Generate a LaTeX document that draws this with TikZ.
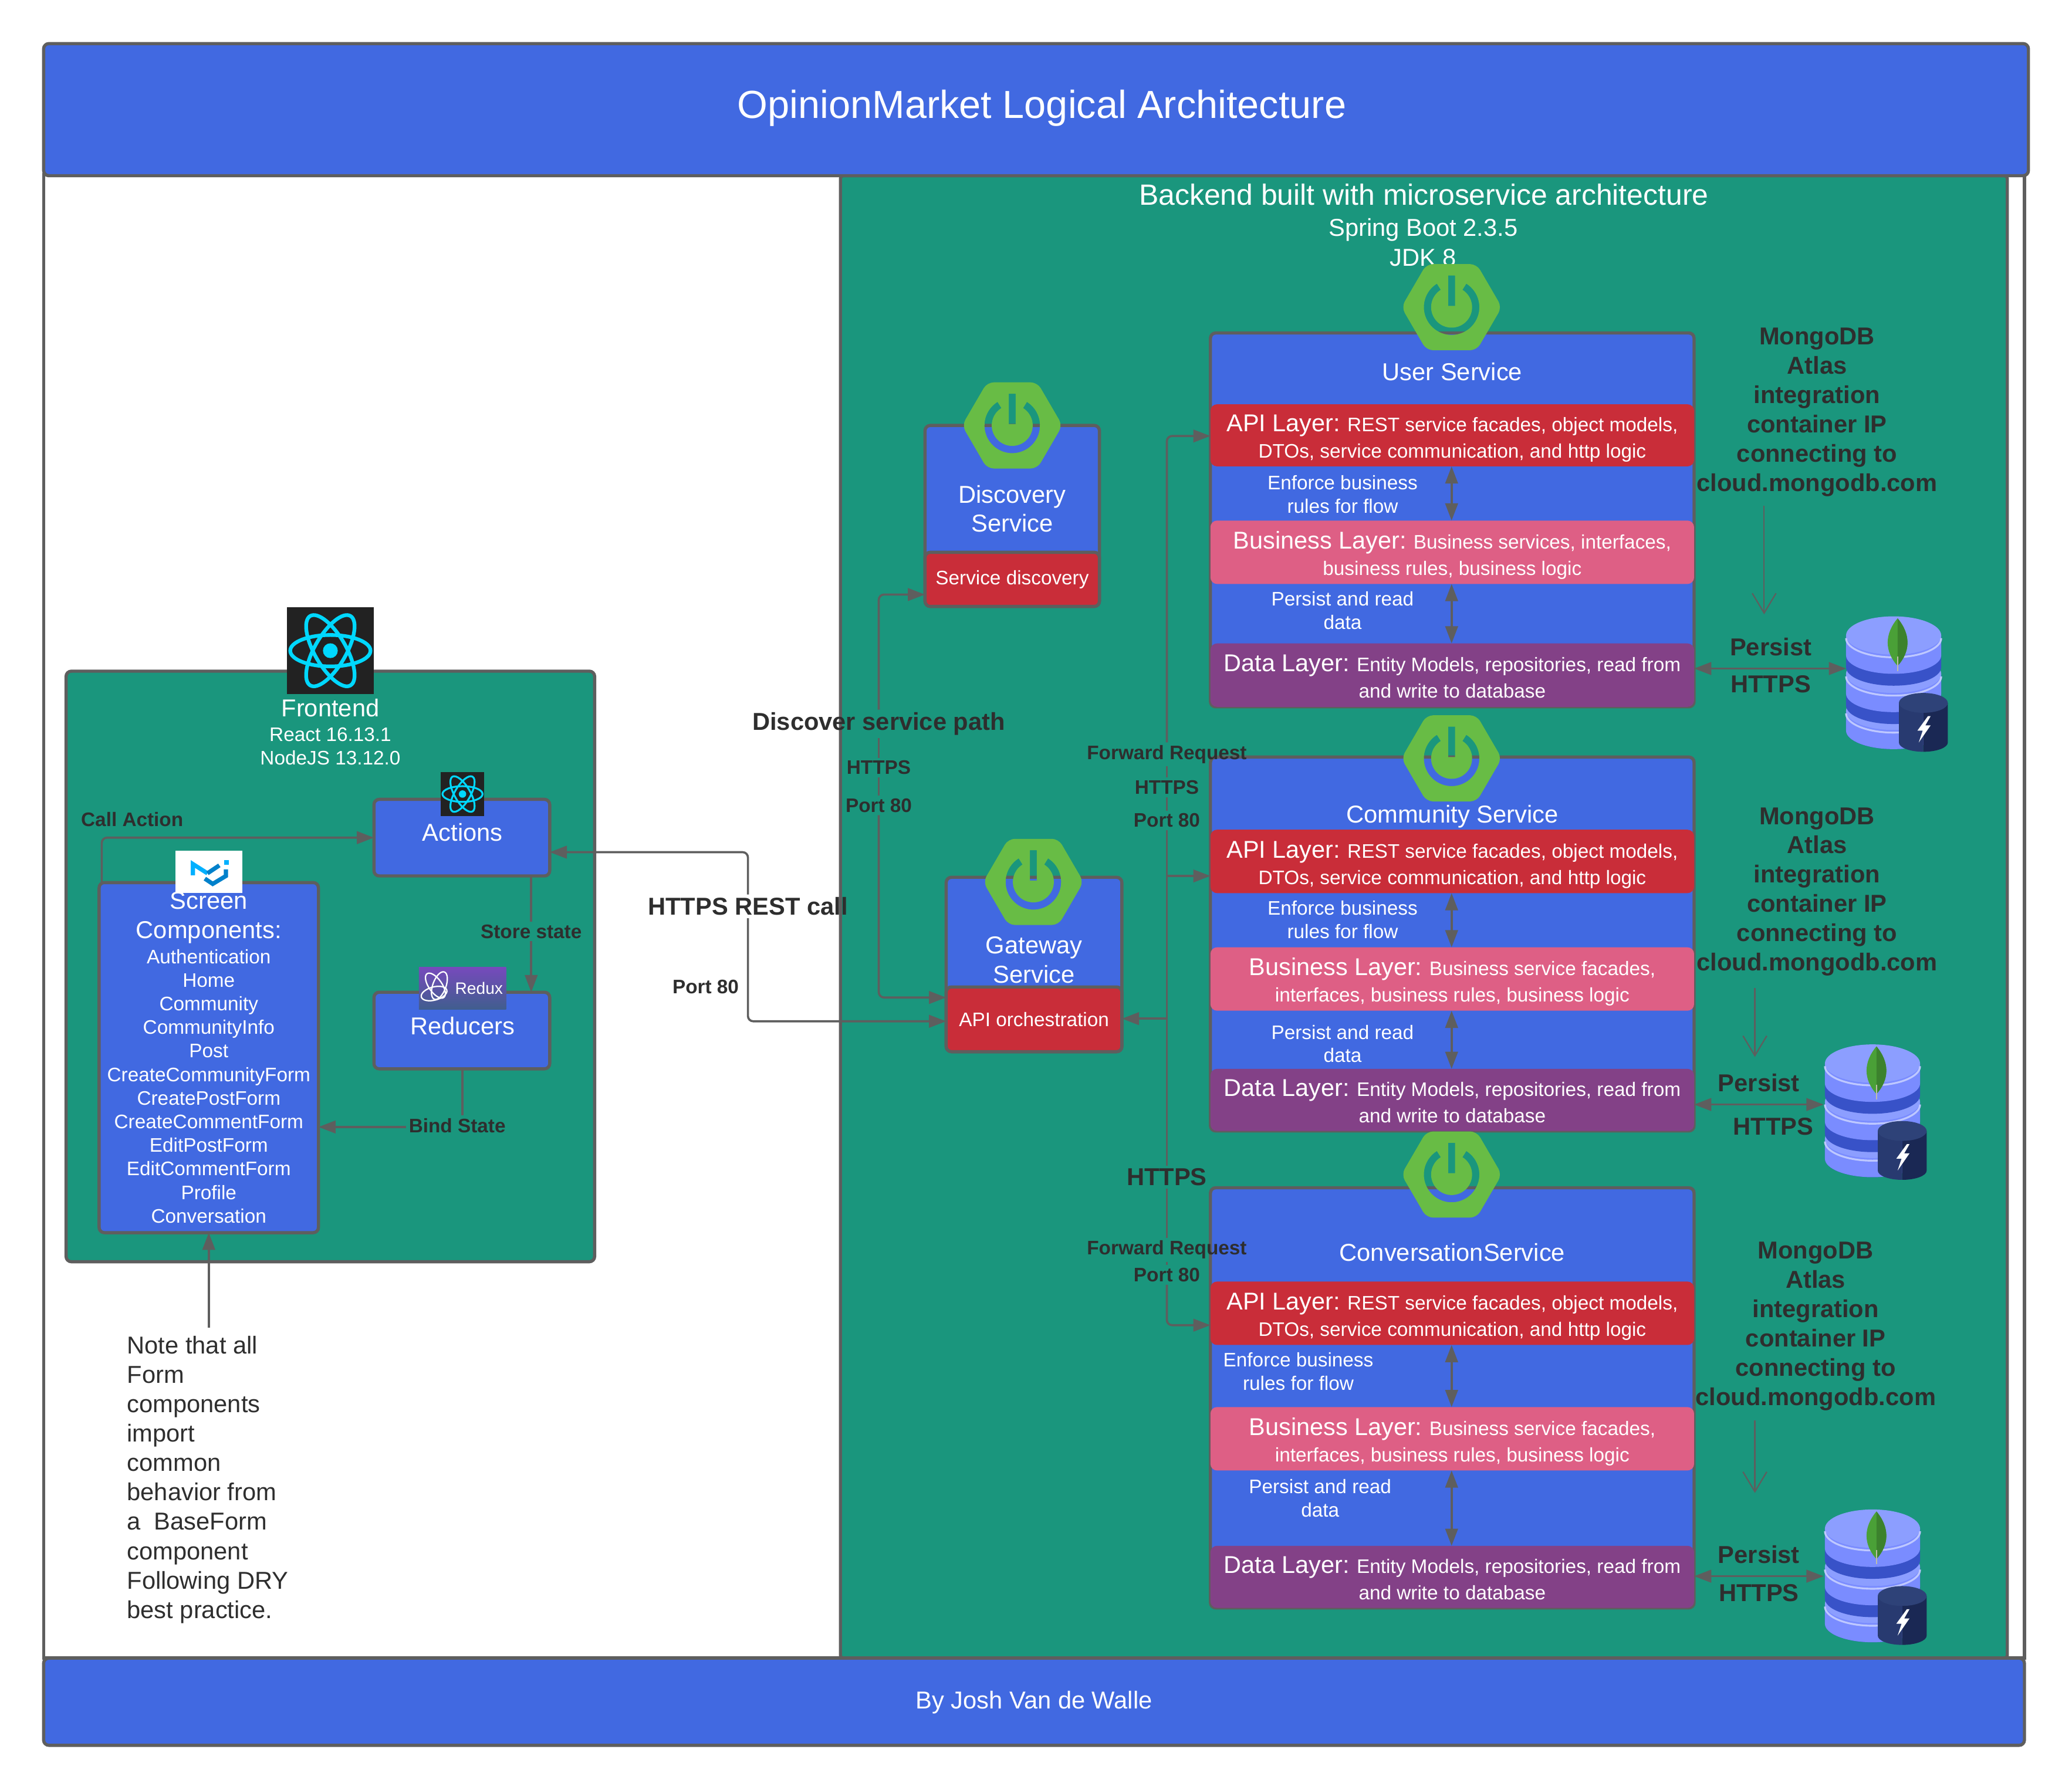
\documentclass[tikz,border=0pt]{standalone}
\usepackage{fontspec}
\setmainfont{Liberation Sans}
\usetikzlibrary{arrows.meta,calc,shadings}
\definecolor{royal}{HTML}{4169E1}
\definecolor{teal2}{HTML}{1A967D}
\definecolor{edge}{HTML}{5E5E5E}
\definecolor{redl}{HTML}{C92D39}
\definecolor{pinkl}{HTML}{DE5F85}
\definecolor{purl}{HTML}{834187}
\definecolor{ink}{HTML}{2E2E2E}
\definecolor{spring}{HTML}{68BC45}
\definecolor{reactc}{HTML}{00D8FF}
\definecolor{reactb}{HTML}{222222}
\definecolor{dbside}{RGB}{122,140,255}
\definecolor{dbtop}{RGB}{140,158,255}
\definecolor{dbdark}{RGB}{56,82,200}
\definecolor{dblight}{RGB}{190,200,255}
\newcommand\fz[2]{\fontsize{#1}{#2}\selectfont}
\newcommand\bigt[1]{{\fz{18.4}{19}\rule{0pt}{17.5pt}#1}}
\newcommand\bigd[1]{{\fz{18.4}{19}\rule{0pt}{14.5pt}#1}}
\tikzset{
  panel/.style={draw=edge,line width=2.4pt,fill=royal,rounded corners=4pt,anchor=north west,inner sep=0pt,outer sep=0pt},
  greenpanel/.style={panel,fill=teal2},
  layer/.style={fill=#1,rounded corners=5pt,anchor=north west,inner sep=0pt,outer sep=0pt,minimum width=366pt,text=white,align=center,font=\fz{14.8}{20}},
  conn/.style={draw=edge,line width=1.6pt,rounded corners=4pt},
  tip/.style={-{Triangle[length=13pt,width=9.5pt]}},
  tipb/.style={{Triangle[length=13pt,width=9.5pt]}-{Triangle[length=13pt,width=9.5pt]}},
  vee/.style={draw=edge,line width=1pt,-{Straight Barb[length=15pt,width=18pt,line width=1pt]}},
  wt/.style={text=white,align=center,inner sep=0pt},
  big/.style={font=\fz{18.5}{22}},
  small/.style={font=\fz{14.8}{17.7}},
  lbl/.style={text=ink,align=center,inner sep=2pt,font=\bfseries\fz{14.8}{17.7}},
  lblbig/.style={text=ink,align=center,inner sep=2pt,font=\bfseries\fz{18.5}{22.2}},
}
\newcommand\springicon[2]{%
  \begin{scope}[shift={(#1,#2)},x=1pt,y=1pt]
    \fill[spring,even odd rule,rounded corners=5pt]
      (38,0)--(19,32.6)--(-19,32.6)--(-38,0)--(-19,-32.6)--(19,-32.6)--cycle
      [sharp corners]
      (58:21) arc[start angle=58,end angle=-238,radius=21] -- (122:15.5)
      arc[start angle=122,end angle=418,radius=15.5] -- cycle
      (-2.6,1) rectangle (2.6,24);
  \end{scope}}
\newcommand\reactlogo[3]{%
  \begin{scope}[shift={(#1,#2)},x=#3pt,y=#3pt]
    \fill[reactb] (-1,-1) rectangle (1,1);
    \foreach \a in {0,60,120}
      \draw[reactc,line width=#3*0.085pt,rotate=\a] (0,0) ellipse[x radius=0.92,y radius=0.36];
    \fill[reactc] (0,0) circle[radius=0.17];
  \end{scope}}
% #1 top-ellipse centre (local y up), #2 dark band height, #3 body height
\newcommand\dbdisc[3]{%
  \fill[dbdark] (-36,#1) -- (-36,#1-#2) arc[start angle=180,end angle=360,x radius=36,y radius=14] -- (36,#1) -- cycle;
  \fill[dbside] (-36,#1) -- (-36,#1-#3) arc[start angle=180,end angle=360,x radius=36,y radius=14] -- (36,#1) -- cycle;
  \fill[dbtop] (0,#1) ellipse[x radius=36,y radius=14.5];
  \draw[dblight,line width=1.4pt] (-36,#1-2) arc[start angle=180,end angle=360,x radius=36,y radius=14.5];
}
\newcommand\dbicon[2]{%
  \begin{scope}[shift={(#1,#2)},x=1pt,y=1pt]
    \dbdisc{-21}{15}{15}
    \dbdisc{7}{24}{15}
    \dbdisc{36}{24}{15}
    \fill[fill={rgb,255:red,74;green,160;blue,55}] (3,49) .. controls (13,37) and (13,24) .. (3,13) .. controls (-7,24) and (-7,37) .. (3,49) -- cycle;
    \fill[fill={rgb,255:red,60;green,130;blue,45}] (3,49) .. controls (13,37) and (13,24) .. (3,13) -- cycle;
    \draw[draw={rgb,255:red,190;green,190;blue,170},line width=.7pt] (3,20) -- (3,9);
    \fill[fill={rgb,255:red,40;green,58;blue,112}] (4,-15) -- (4,-45) arc[start angle=180,end angle=270,x radius=18.5,y radius=7] -- (22.5,-15) -- cycle;
    \fill[fill={rgb,255:red,26;green,40;blue,84}] (22.5,-15) -- (22.5,-52) arc[start angle=270,end angle=360,x radius=18.5,y radius=7] -- (41,-15) -- cycle;
    \fill[fill={rgb,255:red,46;green,66;blue,120}] (22.5,-15) ellipse[x radius=18.5,y radius=7.5];
    \begin{scope}[shift={(23,-35)}]
      \fill[white] (3,10) -- (-5,-1) -- (-1,-1) -- (-4,-10) -- (5,3) -- (1,3) -- (5,10) -- cycle;
    \end{scope}
  \end{scope}}
\begin{document}
\begin{tikzpicture}[x=1pt,y=-1pt]
\useasboundingbox (0,0) rectangle (1568,1354.8);
\fill[white] (0,0) rectangle (1568,1354.8);
% outer frame
\node[draw=edge,line width=2.4pt,fill=white,anchor=north west,inner sep=0pt,outer sep=0pt,minimum width=1499pt,minimum height=1123pt] (frame) at (33,132) {};
% backend
\node[greenpanel,rounded corners=2pt,minimum width=883pt,minimum height=1122pt] (backend) at (636,133) {};
% title and footer
\node[panel,minimum width=1502pt,minimum height=100pt] (title) at (33,33) {};
\node[wt,font=\fz{29.6}{36}] (titletxt) at (788.5,82) {OpinionMarket Logical Architecture};
\node[panel,minimum width=1499pt,minimum height=66pt] (footer) at (33,1255) {};
\node[wt,big] (footertxt) at (782.5,1288.5) {By Josh Van de Walle};
\node[wt,font=\fz{22.15}{26}] (betitle) at (1077.5,147.5) {Backend built with microservice architecture};
\node[wt,big] (besub) at (1077,174) {Spring Boot 2.3.5};
\node[wt,big] (bejdk) at (1077,195) {JDK 8};
% frontend
\node[greenpanel,minimum width=400pt,minimum height=447pt] (frontend) at (50,508) {};
\node[wt,big] (fetitle) at (250,536) {Frontend};
\node[wt,small] (fesub) at (250,565) {React 16.13.1\\NodeJS 13.12.0};
\node[panel,minimum width=133pt,minimum height=58pt] (actions) at (283,605) {};
\node[wt,big] (actionstxt) at (350,630) {Actions};
\node[panel,minimum width=133pt,minimum height=58pt] (reducers) at (283,751) {};
\node[wt,big] (reducerstxt) at (350,776.5) {Reducers};
\node[panel,minimum width=166pt,minimum height=265pt,text=white,align=center,font=\fz{14.8}{17.85}] (screen) at (75,668) {{\fz{18.5}{19}Screen}\\[4.3pt]{\fz{18.5}{19}Components:}\\[1pt]Authentication\\Home\\Community\\CommunityInfo\\Post\\CreateCommunityForm\\CreatePostForm\\CreateCommentForm\\EditPostForm\\EditCommentForm\\Profile\\Conversation};
\node[anchor=north west,align=left,inner sep=0pt,text=ink,font=\fz{18.5}{22.25}] (note) at (96,1011) {Note that all\\Form\\components\\import\\common\\behavior from\\a~ BaseForm\\component\\Following DRY\\best practice.};
% discovery
\node[panel,minimum width=132pt,minimum height=137pt] (discovery) at (700,322) {};
\node[panel,fill=redl,minimum width=132pt,minimum height=41pt,text=white,font=\fz{14.8}{17.7}] (discred) at (700,418) {Service discovery};
\node[wt,big] (disctxt) at (766,385) {Discovery\\Service};
% gateway
\node[panel,minimum width=133pt,minimum height=132pt] (gateway) at (716,664) {};
\node[panel,fill=redl,minimum width=133pt,minimum height=49pt,text=white,font=\fz{14.8}{17.7}] (gatered) at (716,747) {API orchestration};
\node[wt,big] (gatetxt) at (782.5,726.5) {Gateway\\Service};
% user service
\node[panel,minimum width=366pt,minimum height=283pt] (user) at (916,252) {};
\node[wt,big] (usertxt) at (1099,281.5) {User Service};
\node[layer=redl,minimum height=47pt] (uapi) at (916,306) {\bigt{API Layer:} REST service facades, object models,\\DTOs, service communication, and http logic};
\node[layer=pinkl,minimum height=48pt] (ubiz) at (916,394) {\bigt{Business Layer:} Business services, interfaces,\\business rules, business logic};
\node[layer=purl,minimum height=48pt] (udata) at (916,487) {\bigd{Data Layer:} Entity Models, repositories, read from\\and write to database};
\node[wt,small] (utxt1) at (1016,374) {Enforce business\\rules for flow};
\node[wt,small] (utxt2) at (1016,462) {Persist and read\\data};
% community
\node[panel,minimum width=366pt,minimum height=283pt] (comm) at (916,573) {};
\node[wt,big] (commtxt) at (1099,618) {Community Service};
\node[layer=redl,minimum height=48pt] (capi) at (916,628) {\bigt{API Layer:} REST service facades, object models,\\DTOs, service communication, and http logic};
\node[layer=pinkl,minimum height=48pt] (cbiz) at (916,717) {\bigt{Business Layer:} Business service facades,\\interfaces, business rules, business logic};
\node[layer=purl,minimum height=47pt] (cdata) at (916,809) {\bigd{Data Layer:} Entity Models, repositories, read from\\and write to database};
\node[wt,small] (ctxt1) at (1016,696) {Enforce business\\rules for flow};
\node[wt,small] (ctxt2) at (1016,790) {Persist and read\\data};
% conversation
\node[panel,minimum width=366pt,minimum height=318pt] (conv) at (916,899) {};
\node[wt,big] (convtxt) at (1099,948) {ConversationService};
\node[layer=redl,minimum height=48pt] (vapi) at (916,970) {\bigt{API Layer:} REST service facades, object models,\\DTOs, service communication, and http logic};
\node[layer=pinkl,minimum height=48pt] (vbiz) at (916,1065) {\bigt{Business Layer:} Business service facades,\\interfaces, business rules, business logic};
\node[layer=purl,minimum height=47pt] (vdata) at (916,1170) {\bigd{Data Layer:} Entity Models, repositories, read from\\and write to database};
\node[wt,small] (vtxt1) at (982.5,1038) {Enforce business\\rules for flow};
\node[wt,small] (vtxt2) at (999,1134) {Persist and read\\data};
% labels
\node[lbl] (lcall) at (100,620) {Call Action};
\node[lbl] (lstore) at (402,705) {Store state};
\node[lbl] (lbind) at (346,852) {Bind State};
\node[lblbig] (lrest) at (566,686) {HTTPS REST call};
\node[lbl] (lrestp) at (534,747) {Port 80};
\node[lblbig] (ldisc) at (665,548) {Discover service path};
\node[lbl] (ldisch) at (665,581) {HTTPS};
\node[lbl] (ldiscp) at (665,609.5) {Port 80};
\node[lbl] (lfr) at (883,571) {Forward Request};
\node[lbl] (lfrh) at (883,596) {HTTPS};
\node[lbl] (lfrp) at (883,621) {Port 80};
\node[lblbig] (lhh) at (883,891) {HTTPS};
\node[lbl] (lfr2) at (883,946) {Forward Request};
\node[lbl] (lfrp2) at (883,965) {Port 80};
\node[lblbig] (mongo1) at (1375,312) {MongoDB\\Atlas\\integration\\container IP\\connecting to\\cloud.mongodb.com};
\node[lblbig] (mongo2) at (1375,675) {MongoDB\\Atlas\\integration\\container IP\\connecting to\\cloud.mongodb.com};
\node[lblbig] (mongo3) at (1374,1004) {MongoDB\\Atlas\\integration\\container IP\\connecting to\\cloud.mongodb.com};
\node[lblbig] (lp1) at (1340,489.5) {Persist};
\node[lblbig] (lh1) at (1340,518) {HTTPS};
\node[lblbig] (lp2) at (1331,819.5) {Persist};
\node[lblbig] (lh2) at (1342,852.5) {HTTPS};
\node[lblbig] (lp3) at (1331,1176.5) {Persist};
\node[lblbig] (lh3) at (1331,1205.5) {HTTPS};
% named routing coordinates
\coordinate (callc) at (77,634);
\coordinate (storec) at (402,700);
\coordinate (bindc) at (350,853);
\coordinate (restc) at (566,645);
\coordinate (restb) at (566,773);
\coordinate (discc) at (665,450);
\coordinate (discb) at (665,755);
\coordinate (trunkt) at (883,330);
\coordinate (trunkc) at (883,663);
\coordinate (trunkg) at (883,771);
\coordinate (trunkb) at (883,1003);
\coordinate (arrowx) at (1098.5,400);
\coordinate (p1) at (1340,506);
\coordinate (p2) at (1340,836);
\coordinate (p3) at (1340,1193);
\coordinate (db1) at (1397,506);
\coordinate (db2) at (1380,836);
\coordinate (db3) at (1380,1193);
\coordinate (v1a) at (1335,383);\coordinate (v1b) at (1335,465);
\coordinate (v2a) at (1328,748);\coordinate (v2b) at (1328,800);
\coordinate (v3a) at (1328,1075);\coordinate (v3b) at (1328,1130);
\coordinate (notec) at (158,1005);
% frontend connectors
\draw[conn,tip] (callc |- screen.north) -- (callc) -- (callc -| actions.west);
\draw[conn] (storec |- actions.south) -- (storec |- lstore.north);
\draw[conn,tip] (storec |- lstore.south) -- (storec |- reducers.north);
\draw[conn] (bindc |- reducers.south) -- (bindc |- lbind.north);
\draw[conn,tip] (lbind.west |- bindc) -- (bindc -| screen.east);
\draw[conn,tip] (notec) -- (notec |- screen.south);
% REST
\draw[conn,tip] (restc |- lrest.north) -- (restc) -- (restc -| actions.east);
\draw[conn,tip] (restc |- lrest.south) -- (restb) -- (restb -| gateway.west);
% discover
\draw[conn,tip] (discc |- ldisc.north) -- (discc) -- (discc -| discovery.west);
\draw[conn] (discc |- ldisc.south) -- (discc |- ldisch.north);
\draw[conn] (discc |- ldisch.south) -- (discc |- ldiscp.north);
\draw[conn,tip] (discc |- ldiscp.south) -- (discb) -- (discb -| gateway.west);
% trunk
\draw[conn,tip] (trunkt |- lfr.north) -- (trunkt) -- (trunkt -| uapi.west);
\draw[conn] (trunkt |- lfr.south) -- (trunkt |- lfrh.north);
\draw[conn] (trunkt |- lfrh.south) -- (trunkt |- lfrp.north);
\draw[conn] (trunkt |- lfrp.south) -- (trunkt |- lhh.north);
\draw[conn] (trunkt |- lhh.south) -- (trunkt |- lfr2.north);
\draw[conn] (trunkt |- lfr2.south) -- (trunkt |- lfrp2.north);
\draw[conn,tip] (trunkt |- lfrp2.south) -- (trunkb) -- (trunkb -| vapi.west);
\draw[conn,tip] (trunkc) -- (trunkc -| capi.west);
\draw[conn,tip] (trunkg) -- (trunkg -| gatered.east);
% inner arrows
\draw[conn,tipb] (arrowx |- uapi.south) -- (arrowx |- ubiz.north);
\draw[conn,tipb] (arrowx |- ubiz.south) -- (arrowx |- udata.north);
\draw[conn,tipb] (arrowx |- capi.south) -- (arrowx |- cbiz.north);
\draw[conn,tipb] (arrowx |- cbiz.south) -- (arrowx |- cdata.north);
\draw[conn,tipb] (arrowx |- vapi.south) -- (arrowx |- vbiz.north);
\draw[conn,tipb] (arrowx |- vbiz.south) -- (arrowx |- vdata.north);
% persist
\draw[conn,tipb] (p1 -| user.east) -- (db1);
\draw[conn,tipb] (p2 -| comm.east) -- (db2);
\draw[conn,tipb] (p3 -| conv.east) -- (db3);
\draw[vee] (v1a) -- (v1b);
\draw[vee] (v2a) -- (v2b);
\draw[vee] (v3a) -- (v3b);
% icons
\springicon{1098.5}{232.5}
\springicon{766}{322}
\springicon{782}{667.5}
\springicon{1098.5}{574}
\springicon{1098.5}{889}
\reactlogo{250}{492.5}{33}
\reactlogo{350}{601}{16.5}
\dbicon{1433}{517}
\dbicon{1417}{841}
\dbicon{1417}{1193}
% MUI logo
\node[fill=white,minimum width=50.5pt,minimum height=32pt,inner sep=0pt,outer sep=0pt] (muilogo) at (158,660) {};
\begin{scope}[shift={(muilogo.center)}]
  \draw[line width=3.2pt,draw={rgb,255:red,0;green,176;blue,255},line join=miter] (-12,2.5) -- (-12,-6) -- (-1,1);
  \draw[line width=3.2pt,draw={rgb,255:red,0;green,129;blue,203}] (-1,1) -- (8,-5);
  \draw[line width=3.2pt,draw={rgb,255:red,0;green,129;blue,203}] (-3,5) -- (3,9) -- (13,3) -- (13,-2);
  \fill[fill={rgb,255:red,0;green,176;blue,255}] (11.5,-9) rectangle (15,-5.5);
\end{scope}
% Redux logo
\node[minimum width=66pt,minimum height=32pt,inner sep=0pt,outer sep=0pt,top color={rgb,255:red,118;green,74;blue,188},bottom color={rgb,255:red,64;green,94;blue,142},text=white,font=\fz{12.5}{14}] (reduxlogo) at (350,748) {\hspace*{25pt}Redux};
\begin{scope}[shift={($(reduxlogo.center)+(-19.5,0)$)},x=1pt,y=1pt]
  \draw[white,line width=1pt] (-2,-4) ellipse[x radius=10,y radius=5,rotate=15];
  \draw[white,line width=1pt] (2,2) ellipse[x radius=11,y radius=5,rotate=70];
  \draw[white,line width=1pt] (-1,2) ellipse[x radius=11,y radius=5,rotate=-55];
\end{scope}
\end{tikzpicture}
\end{document}
